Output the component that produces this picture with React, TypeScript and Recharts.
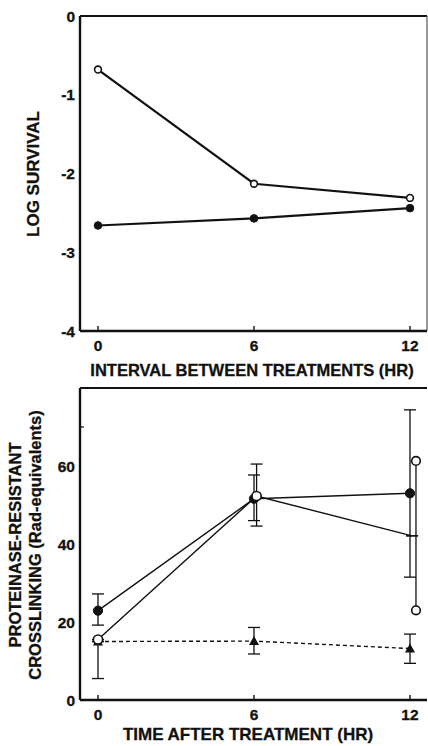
import { ComposedChart, Line, Scatter, XAxis, YAxis, ErrorBar } from "recharts";

// top panel: log survival vs interval between treatments
const intervalHours = [0, 6, 12];
const survivalOpen = [-0.68, -2.13, -2.31];
const survivalFilled = [-2.66, -2.57, -2.44];
const survivalTicks = [0, -1, -2, -3, -4];
const hourTicks = [0, 6, 12];

// bottom panel: proteinase-resistant crosslinking vs time after treatment
const filledHours = [0, 6, 12];
const filledLink = [22.9, 51.6, 53];
const filledErrLow = [3.7, 5.6, 21.5];
const filledErrHigh = [4.3, 6.1, 21.4];

const openHours = [0, 6.1, 12.08];
const openLink = [15.5, 52.3, 42.1];
const openErrLow = [10, 7.7, 0];
const openErrHigh = [0, 8.2, 0];
const openMarker = [true, true, false]; // 12 hr value is the mean of the two below

// the two individual values at 12 hr drawn as a range
const rangeHours = [12.23, 12.23];
const rangeLink = [61.3, 23];

const triHours = [0, 6, 12];
const triLink = [15, 15.1, 13.2];
const triErrLow = [0, 3.3, 3.8];
const triErrHigh = [0, 3.5, 3.7];

const linkTicks = [0, 20, 40, 60, 70];
const linkTickLabels: Record<number, string> = { 0: "0", 20: "20", 40: "40", 60: "60", 70: "" };

const FONT = '"Liberation Sans", Arial, Helvetica, sans-serif';
const X_DOMAIN: [number, number] = [-0.692, 12.654];

const survivalOpenData = intervalHours.map((x, i) => ({ x, y: survivalOpen[i] }));
const survivalFilledData = intervalHours.map((x, i) => ({ x, y: survivalFilled[i] }));
const filledData = filledHours.map((x, i) => ({ x, y: filledLink[i], err: [filledErrLow[i], filledErrHigh[i]] }));
const openData = openHours.map((x, i) => ({
  x,
  y: openLink[i],
  err: [openErrLow[i], openErrHigh[i]],
  marker: openMarker[i],
}));
const rangeData = rangeHours.map((x, i) => ({ x, y: rangeLink[i] }));
const triData = triHours.map((x, i) => ({ x, y: triLink[i], err: [triErrLow[i], triErrHigh[i]] }));

const textStyle = { fontFamily: FONT, fontWeight: 700, fill: "#111", stroke: "#111", strokeWidth: 0.3 };

function BottomTick({ x, y, payload, gap }: any) {
  return (
    <g>
      <line x1={x} x2={x} y1={y} y2={y - 5} stroke="#111" strokeWidth={1.4} />
      <text x={x} y={y + gap} textAnchor="middle" fontSize={15.5} {...textStyle}>
        {payload.value}
      </text>
    </g>
  );
}

function TopTick({ x, y }: any) {
  return <line x1={x} x2={x} y1={y} y2={y + 5} stroke="#111" strokeWidth={1.4} />;
}

function RightTick({ x, y }: any) {
  return <line x1={x} x2={x - 5} y1={y} y2={y} stroke="#333" strokeWidth={1.2} />;
}

function SurvivalTick({ x, y, payload }: any) {
  return (
    <text x={x - 5} y={y + 5.5} textAnchor="end" fontSize={15.5} {...textStyle}>
      {payload.value}
    </text>
  );
}

function LinkTick({ x, y, payload }: any) {
  const label = linkTickLabels[payload.value];
  if (!label) return <line x1={x} x2={x + 4} y1={y} y2={y} stroke="#111" strokeWidth={1.2} />;
  return (
    <text x={x - 5} y={y + 5.5} textAnchor="end" fontSize={15.5} {...textStyle}>
      {label}
    </text>
  );
}

function OpenDot({ cx, cy, r, payload }: any) {
  if (cx == null || cy == null) return <g />;
  if (payload && payload.marker === false) return <g />;
  return <circle cx={cx} cy={cy} r={r} fill="#fff" stroke="#111" strokeWidth={1.6} />;
}

function FilledDot({ cx, cy, r }: any) {
  if (cx == null || cy == null) return <g />;
  return <circle cx={cx} cy={cy} r={r} fill="#111" stroke="#111" strokeWidth={1} />;
}

function TriDot({ cx, cy }: any) {
  if (cx == null || cy == null) return <g />;
  return <path d={`M${cx - 5},${cy + 4} L${cx + 5},${cy + 4} L${cx},${cy - 5} Z`} fill="#111" />;
}

export default function App() {
  return (
    <div style={{ position: "absolute", left: 0, top: 0, width: 428, height: 746, background: "#fff" }}>
      <ComposedChart width={428} height={380} margin={{ top: 15, right: 0, bottom: 0, left: 0 }}>
        <XAxis
          xAxisId={0}
          type="number"
          dataKey="x"
          domain={X_DOMAIN}
          ticks={hourTicks}
          interval={0}
          height={49}
          tickSize={0}
          tickMargin={0}
          tickLine={false}
          axisLine={{ stroke: "#111", strokeWidth: 2.4 }}
          tick={(p: any) => <BottomTick {...p} gap={20} />}
          label={{
            content: () => (
              <text x={252} y={376} textAnchor="middle" fontSize={16.5} {...textStyle}>
                INTERVAL BETWEEN TREATMENTS (HR)
              </text>
            ),
          }}
        />
        <XAxis
          xAxisId="top"
          orientation="top"
          type="number"
          dataKey="x"
          domain={X_DOMAIN}
          ticks={hourTicks}
          interval={0}
          height={1}
          tickSize={0}
          tickMargin={0}
          tickLine={false}
          axisLine={{ stroke: "#111", strokeWidth: 2.2 }}
          tick={(p: any) => <TopTick {...p} />}
        />
        <YAxis
          yAxisId={0}
          type="number"
          domain={[-4, 0]}
          ticks={survivalTicks}
          interval={0}
          width={80}
          tickSize={0}
          tickMargin={0}
          tickLine={false}
          axisLine={{ stroke: "#111", strokeWidth: 2.4 }}
          tick={(p: any) => <SurvivalTick {...p} />}
          label={{
            content: () => (
              <text x={39} y={174} transform="rotate(-90 39 174)" textAnchor="middle" fontSize={17} {...textStyle}>
                LOG SURVIVAL
              </text>
            ),
          }}
        />
        <YAxis
          yAxisId="right"
          orientation="right"
          type="number"
          domain={[-4, 0]}
          ticks={[-1, -2, -3]}
          interval={0}
          width={1}
          tickSize={0}
          tickMargin={0}
          tickLine={false}
          axisLine={{ stroke: "#555", strokeWidth: 1.2 }}
          tick={(p: any) => <RightTick {...p} />}
        />
        <Line
          data={survivalOpenData}
          dataKey="y"
          type="linear"
          stroke="#111"
          strokeWidth={2.2}
          dot={(p: any) => <OpenDot key={p.index} {...p} r={3.4} />}
          activeDot={false}
          isAnimationActive={false}
        />
        <Line
          data={survivalFilledData}
          dataKey="y"
          type="linear"
          stroke="#111"
          strokeWidth={2.2}
          dot={(p: any) => <FilledDot key={p.index} {...p} r={3.8} />}
          activeDot={false}
          isAnimationActive={false}
        />
      </ComposedChart>

      <div style={{ position: "absolute", left: 0, top: 380 }}>
        <ComposedChart width={428} height={366} margin={{ top: 7, right: 1, bottom: 0, left: 0 }}>
          <XAxis
            xAxisId={0}
            type="number"
            dataKey="x"
            domain={X_DOMAIN}
            ticks={hourTicks}
            interval={0}
            height={46}
            tickSize={0}
            tickMargin={0}
            tickLine={false}
            axisLine={{ stroke: "#111", strokeWidth: 2.4 }}
            tick={(p: any) => <BottomTick {...p} gap={19.5} />}
            label={{
              content: () => (
                <text x={248} y={360} textAnchor="middle" fontSize={17} {...textStyle}>
                  TIME AFTER TREATMENT (HR)
                </text>
              ),
            }}
          />
          <XAxis
            xAxisId="top"
            orientation="top"
            type="number"
            dataKey="x"
            domain={X_DOMAIN}
            ticks={hourTicks}
            interval={0}
            height={1}
            tickSize={0}
            tickMargin={0}
            tickLine={false}
            axisLine={{ stroke: "#111", strokeWidth: 2.2 }}
            tick={(p: any) => <TopTick {...p} />}
          />
          <YAxis
            type="number"
            domain={[0, 80]}
            ticks={linkTicks}
            interval={0}
            width={80}
            tickSize={0}
            tickMargin={0}
            tickLine={false}
            axisLine={{ stroke: "#111", strokeWidth: 2.4 }}
            tick={(p: any) => <LinkTick {...p} />}
            label={{
              content: () => (
                <text transform="rotate(-90 21 165)" x={21} y={165} textAnchor="middle" fontSize={16.5} {...textStyle}>
                  <tspan x={21} dy={0}>PROTEINASE-RESISTANT</tspan>
                  <tspan x={21} dy={20}>CROSSLINKING (Rad-equivalents)</tspan>
                </text>
              ),
            }}
          />
          <Line
            data={triData}
            dataKey="y"
            type="linear"
            stroke="#111"
            strokeWidth={1.4}
            strokeDasharray="4 3"
            dot={(p: any) => <TriDot key={p.index} {...p} />}
            activeDot={false}
            isAnimationActive={false}
          >
            <ErrorBar dataKey="err" direction="y" width={6} stroke="#111" strokeWidth={1.3} />
          </Line>
          <Line
            data={filledData}
            dataKey="y"
            type="linear"
            stroke="#111"
            strokeWidth={1.4}
            dot={(p: any) => <FilledDot key={p.index} {...p} r={4.6} />}
            activeDot={false}
            isAnimationActive={false}
          >
            <ErrorBar dataKey="err" direction="y" width={6} stroke="#111" strokeWidth={1.3} />
          </Line>
          <Scatter
            data={rangeData}
            dataKey="y"
            line={{ stroke: "#111", strokeWidth: 1.3 }}
            shape={(p: any) => <OpenDot {...p} r={4.3} />}
            isAnimationActive={false}
          />
          <Line
            data={openData}
            dataKey="y"
            type="linear"
            stroke="#111"
            strokeWidth={1.4}
            dot={(p: any) => <OpenDot key={p.index} {...p} r={4.6} />}
            activeDot={false}
            isAnimationActive={false}
          >
            <ErrorBar dataKey="err" direction="y" width={6} stroke="#111" strokeWidth={1.3} />
          </Line>
        </ComposedChart>
      </div>
    </div>
  );
}
